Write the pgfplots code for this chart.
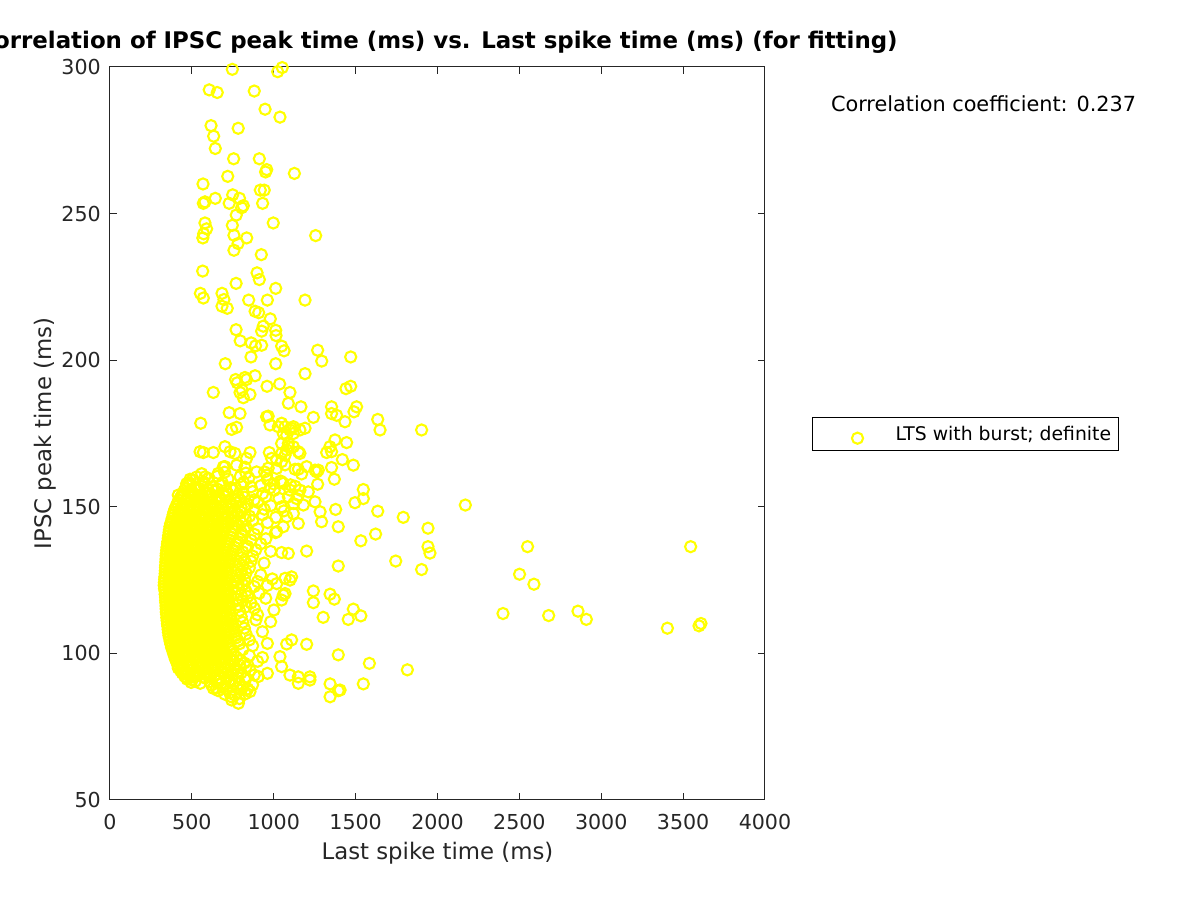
\documentclass[border=0pt]{standalone}
\usepackage{pgfplots}
\pgfplotsset{compat=1.18}
\usepackage{fontspec}
\setmainfont{DejaVu Sans}
\definecolor{myyellow}{rgb}{1,1,0}
\definecolor{axgray}{rgb}{0.15,0.15,0.15}
\begin{document}
\begin{tikzpicture}
\useasboundingbox (0,0) rectangle (600pt,450pt);
\begin{axis}[
  at={(55pt,50pt)}, anchor=south west,
  width=327.5pt, height=366.5pt, scale only axis,
  xmin=0, xmax=4000, ymin=50, ymax=300,
  xtick={0,500,...,4000}, ytick={50,100,...,300},
  scaled x ticks=false,
  /pgf/number format/1000 sep={},
  /pgf/number format/assume math mode=true,
  tick align=inside, major tick length=3.6pt,
  axis line style={axgray, line width=0.5pt},
  every tick/.style={axgray, line width=0.5pt},
  tick label style={font=\fontsize{10.3}{12}\selectfont, text=axgray},
  xticklabel style={anchor=base, yshift=-14.6pt},
  yticklabel style={anchor=east, xshift=-1.1pt},
  xlabel={Last spike time (ms)},
  ylabel={IPSC peak time (ms)},
  xlabel style={at={(axis description cs:0.5,-0.0808)}, anchor=base, font=\fontsize{11.4}{13}\selectfont, text=axgray},
  ylabel style={at={(axis description cs:-0.09,0.5)}, anchor=base, rotate=0, font=\fontsize{11.4}{13}\selectfont, text=axgray},
  title={Correlation of IPSC peak time (ms) vs. Last spike time (ms) (for fitting)},
  title style={at={(axis description cs:0.5,1)}, anchor=base, yshift=3pt, font=\bfseries\fontsize{11.45}{13}\selectfont},
  clip=false,
  legend style={at={(axis description cs:1.0718,0.5225)}, anchor=north west, draw=black, line width=0.5pt,
    inner xsep=0pt, inner ysep=0pt, column sep=0pt,
    font=\fontsize{9.4}{11}\selectfont,
    nodes={inner sep=0pt, text height=11.65pt, text depth=5pt, anchor=base west}},
  legend image code/.code={
    \path[draw=none, fill=none] (0pt,0pt) -- (41.5pt,0pt);
    \draw[#1] plot coordinates {(22.5pt,1.3pt)};
  },
]
\addplot[only marks, mark=o, mark size=2.8pt, line width=1.05pt, draw=myyellow, mark options={draw=myyellow, line width=1.05pt}] coordinates {
(747,299.2)(1024,298.4)(1052,299.8)(606,292.2)(655,291.3)(881,291.8)(947,285.6)(1038,282.9)(617,280)(783,279.1)
(633,276.4)(643,272.2)(755,268.7)(912,268.7)(957,265)(950,264.2)(1126,263.7)(568,260.1)(719,262.7)(918,258)
(942,258)(749,256.4)(791,255.2)(643,255.2)(570,253.5)(580,254)(728,253.5)(814,252.7)(804,252)(932,253.5)
(771,249.5)(580,246.8)(590,244.8)(572,243.1)(567,241.7)(747,246)(997,246.8)(757,242.6)(835,241.7)(1256,242.5)
(782,239.8)(757,237.5)(924,236)(566,230.4)(898,229.8)(912,227.5)(770,226.2)(1012,224.5)(552,222.8)(570,221.2)
(684,222.8)(696,220.7)(684,218.4)(716,217.7)(847,220.5)(961,220.5)(1191,220.5)(886,216.7)(908,216.2)(979,214.1)
(936,211.6)(926,209.9)(770,210.4)(1012,210.2)(1014,208.4)(795,206.6)(862,205.9)(889,204.9)(926,205.1)(1048,204.8)
(1063,203.2)(1268,203.4)(1470,201.1)(1293,199.7)(861,201.1)(704,198.8)(1012,198.8)(1191,195.4)(886,194.7)(767,193.4)
(824,194.1)(959,191.1)(1036,191.9)(1441,190.3)(1470,191.1)(631,189)(794,189)(855,188.3)(807,189.8)(1099,189)
(1903,176.2)(1791,146.4)(2170,150.6)(1942,142.7)(1942,136.4)(1954,134.2)(1745,131.5)(1903,128.6)(2550,136.4)(2501,127)
(2589,123.6)(2400,113.6)(2679,112.9)(2858,114.4)(2909,111.6)(3546,136.4)(3404,108.6)(3597,109.4)(3609,110.2)(1816,94.4)
(1089,185.3)(1166,184.1)(1242,180.5)(1353,184.1)(1353,181.8)(1384,181.2)(1506,184.1)(1490,182.4)(1435,179)(1635,179.8)
(1649,176.2)(1099,176.2)(1160,176.2)(1191,176.8)(1120,177.3)(1058,175)(1374,172.8)(1445,171.9)(1323,168.5)(1353,168.8)
(1343,170.5)(1419,166.1)(1486,164.2)(1353,163.4)(1150,162.8)(1252,162.5)(1262,161.9)(1370,159.4)(1268,157.7)(1547,155.9)
(1547,152.8)(1496,151.4)(1378,149.1)(1635,148.5)(1394,143.2)(1283,148.3)(1292,144.9)(1211,155.1)(1160,155.7)(1130,157)
(1150,153.9)(1532,138.4)(1622,140.7)(1201,134.9)(1089,134.1)(1048,134.4)(1394,129.8)(1099,125)(1242,121.3)(1242,117.3)
(1344,120.2)(1370,118.5)(1486,115.1)(1532,112.8)(1455,111.6)(1302,112.3)(1058,119.9)(1048,118.2)(1069,120.4)(1109,104.6)
(1079,103.2)(1201,103.1)(1394,99.5)(1584,96.6)(1099,92.6)(1150,92)(1221,92)(1221,90.9)(1150,89.8)(1344,89.6)
(1405,87.5)(1344,85.2)(1394,87.3)(1547,89.6)(1038,98.9)(1048,95.5)
(728,182.1)(794,181.8)(554,178.5)(743,176.4)(773,177.1)(814,187.2)(777,192.3)(834,193.4)(956,180.7)(977,177.9)
(1028,177.3)(570,168.5)(631,168.5)(702,170.5)(733,168.8)(763,168.2)(855,168.5)(973,168.5)(1018,166)(1079,169.4)
(1069,164.3)(702,163.7)(824,163.5)(661,161.4)(489,159.4)(580,160.2)(448,154.3)(1018,141.5)(1069,125.6)(1109,126.1)
(1018,123.8)(784,83)(743,84.1)(631,88.1)(499,91)(417,95)(855,87)
(1089,171.6)(1150,168.8)(1048,168.2)(1048,165.4)(1130,162.8)(1170,161.2)(1048,158.5)(1099,155.7)(1252,151.7)(1181,150.6)
(1120,147.7)(1079,146.6)(1048,150)(1150,144.3)(1058,143.2)(1089,153.4)(1140,152.8)(1048,178.5)(1109,176.8)(1079,174.4)
(1089,170.5)(1160,168.2)(1069,167.6)(966,180.9)(1069,177.3)(1120,175)(550,168.8)(1048,171.6)(1120,170.5)(468,157.9)
(417,154)(692,163.6)(773,164.2)(834,166.5)(895,161.9)(956,160.8)(1018,163.1)(1058,158)(1201,163.7)(1272,162.5)
(966,163.2)(987,166.5)
(560,161.3)(700,161.8)(830,161.5)(944,161.9)
(503,159.2)(601,159.7)(721,159.5)(848,159.8)(962,159.3)(1041,158.8)
(472,157.3)(522,156.6)(571,157.8)(626,156.9)(681,157.4)(736,156.5)(801,157.6)(861,156.8)(921,157.2)(977,156.4)(1102,157.5)
(452,155.4)(498,154.7)(541,155.8)(592,154.9)(641,155.3)(691,154.6)(752,155.7)(812,154.8)(871,155.2)(932,154.5)(1003,155.6)
(431,153.2)(469,152.6)(511,153.7)(556,152.8)(601,153.4)(651,152.5)(702,153.6)(761,152.7)(822,153.3)(881,152.4)(951,153.5)(1032,152.9)
(412,151.3)(451,150.6)(489,151.7)(531,150.8)(574,151.2)(621,150.5)(664,151.6)(711,150.7)(772,151.4)(841,150.9)(902,151.5)(982,150.4)(1122,151.1)
(396,149.2)(431,148.5)(469,149.6)(506,148.8)(546,149.3)(586,148.6)(626,149.7)(671,148.7)(716,149.4)(761,148.5)(822,149.6)(881,148.8)(942,149.2)(1062,148.6)
(386,147.3)(416,146.6)(451,147.7)(484,146.8)(521,147.2)(561,146.5)(601,147.6)(641,146.7)(681,147.4)(722,146.5)(781,147.5)(852,146.8)(931,147.3)(1012,146.4)
(376,145.1)(406,144.5)(441,145.6)(471,144.7)(506,145.3)(541,144.6)(576,145.5)(611,144.8)(651,145.2)(691,144.5)(741,145.6)(802,144.7)(871,145.3)(962,144.6)
(366,143.2)(396,142.6)(426,143.7)(456,142.8)(491,143.3)(521,142.5)(556,143.6)(591,142.7)(626,143.4)(661,142.6)(702,143.5)(762,142.8)(831,143.3)(902,142.5)
(361,141.3)(391,140.6)(421,141.6)(451,140.7)(481,141.2)(511,140.5)(546,141.5)(581,140.8)(616,141.4)(651,140.6)(692,141.5)(741,140.7)(802,141.3)(882,140.6)(1011,141.2)
(356,139.2)(386,138.5)(416,139.6)(446,138.7)(476,139.3)(506,138.6)(541,139.5)(576,138.8)(611,139.2)(646,138.5)(681,139.6)(731,138.7)(791,139.3)(862,138.6)(952,139.1)
(351,137.3)(379,136.6)(409,137.5)(439,136.8)(469,137.2)(499,136.5)(531,137.6)(566,136.7)(601,137.4)(636,136.6)(671,137.5)(711,136.8)(771,137.2)(841,136.5)(921,137.4)
(346,135.2)(374,134.5)(403,135.6)(433,134.7)(463,135.3)(493,134.6)(526,135.5)(559,134.8)(593,135.2)(626,134.5)(661,135.6)(701,134.7)(751,135.3)(811,134.6)(891,135.4)(981,134.8)
(343,133.3)(371,132.6)(399,133.5)(429,132.7)(459,133.2)(489,132.5)(521,133.6)(553,132.8)(586,133.4)(619,132.6)(653,133.5)(691,132.7)(741,133.3)(801,132.6)(871,133.2)
(341,131.2)(369,130.5)(397,131.6)(426,130.7)(456,131.3)(486,130.6)(516,131.5)(549,130.8)(581,131.2)(613,130.5)(647,131.6)(686,130.7)(731,131.3)(791,130.6)(861,131.4)(941,130.8)
(339,129.3)(366,128.6)(394,129.5)(423,128.7)(453,129.2)(483,128.5)(513,129.6)(546,128.8)(578,129.4)(611,128.6)(645,129.5)(681,128.7)(721,129.3)(781,128.6)(851,129.2)
(337,127.2)(363,126.5)(391,127.6)(421,126.7)(451,127.3)(481,126.6)(511,127.5)(543,126.8)(576,127.2)(609,126.5)(641,127.6)(677,126.7)(716,127.3)(771,126.6)(831,127.4)(921,126.8)
(334,125.3)(361,124.6)(389,125.5)(419,124.7)(449,125.2)(479,124.5)(509,125.6)(541,124.8)(573,125.4)(606,124.6)(639,125.5)(673,124.7)(711,125.3)(761,124.6)(821,125.2)(901,124.5)(991,125.4)
(331,123.2)(359,122.5)(387,123.6)(417,122.7)(447,123.3)(477,122.6)(507,123.5)(539,122.8)(571,123.2)(603,122.5)(636,123.6)(669,122.7)(706,123.3)(751,122.6)(811,123.4)(881,122.8)(961,123.2)
(336,121.3)(363,120.6)(391,121.5)(421,120.7)(451,121.2)(481,120.5)(511,121.6)(543,120.8)(576,121.4)(609,120.6)(641,121.5)(676,120.7)(713,121.3)(761,120.6)(831,121.2)(911,120.5)
(339,119.2)(366,118.5)(394,119.6)(423,118.7)(453,119.3)(483,118.6)(513,119.5)(546,118.8)(579,119.2)(611,118.5)(646,119.6)(681,118.7)(721,119.3)(771,118.6)(841,119.4)(951,118.8)
(341,117.3)(369,116.6)(397,117.5)(426,116.7)(456,117.2)(486,116.5)(516,117.6)(549,116.8)(581,117.4)(613,116.6)(649,117.5)(686,116.7)(726,117.3)(781,116.6)(861,117.2)
(343,115.2)(371,114.5)(399,115.6)(429,114.7)(459,115.3)(489,114.6)(519,115.5)(551,114.8)(583,115.2)(616,114.5)(651,115.6)(689,114.7)(731,115.3)(791,114.6)(881,115.4)(1001,114.8)
(346,113.3)(373,112.6)(401,113.5)(431,112.7)(461,113.2)(491,112.5)(521,113.6)(553,112.8)(586,113.4)(619,112.6)(653,113.5)(691,112.7)(736,113.3)(801,112.6)(901,113.2)
(349,111.2)(376,110.5)(405,111.6)(435,110.7)(465,111.3)(495,110.6)(526,111.5)(557,110.8)(589,111.2)(621,110.5)(656,111.6)(696,110.7)(741,111.3)(811,110.6)(891,111.4)(981,110.8)
(353,109.3)(381,108.6)(409,109.5)(439,108.7)(469,109.2)(499,108.5)(529,109.6)(561,108.8)(593,109.4)(626,108.6)(661,109.5)(701,108.7)(751,109.3)(821,108.6)
(357,107.2)(385,106.5)(413,107.6)(443,106.7)(473,107.3)(503,106.6)(533,107.5)(566,106.8)(598,107.2)(631,106.5)(666,107.6)(706,106.7)(761,107.3)(831,106.6)(931,107.4)
(363,105.3)(391,104.6)(419,105.5)(449,104.7)(479,105.2)(509,104.5)(539,105.6)(571,104.8)(603,105.4)(636,104.6)(671,105.5)(713,104.7)(771,105.3)(851,104.6)
(371,103.2)(399,102.5)(427,103.6)(456,102.7)(486,103.3)(516,102.6)(546,103.5)(578,102.8)(611,103.2)(646,102.5)(681,103.6)(726,102.7)(791,103.3)(871,102.6)(961,103.4)
(381,101.3)(409,100.6)(437,101.5)(466,100.7)(496,101.2)(526,100.5)(557,101.6)(589,100.8)(621,101.4)(656,100.6)(693,101.5)(741,100.7)(811,101.3)
(393,99.2)(421,98.5)(449,99.6)(479,98.7)(509,99.3)(539,98.6)(571,99.5)(603,98.8)(637,99.2)(673,98.5)(716,99.6)(771,98.7)(851,99.3)(931,98.6)
(406,97.3)(436,96.6)(466,97.5)(496,96.7)(526,97.2)(557,96.5)(591,97.6)(626,96.8)(661,97.4)(701,96.6)(751,97.5)(821,96.7)(901,97.3)
(421,95.2)(451,94.5)(481,95.6)(513,94.7)(546,95.3)(581,94.6)(616,95.5)(656,94.8)(701,95.2)(761,94.5)(831,95.4)
(441,93.3)(476,92.6)(511,93.5)(549,92.7)(591,93.2)(641,92.5)(691,93.6)(746,92.8)(801,93.4)(881,92.6)(961,93.2)
(471,91.2)(521,90.5)(581,91.6)(651,90.7)(711,91.3)(761,90.6)(831,91.5)
(621,89.2)(691,88.5)(751,89.6)(811,88.7)(871,89.3)
(661,87.3)(731,86.6)(801,87.5)
(741,85.2)(791,84.6)
(530,160.2)(655,160.4)(795,160.3)
(485,158.1)(575,158.3)(686,158.2)(816,158.3)(1000,157.8)
(460,156.2)(497,155.8)(546,156.3)(598,155.9)(653,156.1)(708,155.7)(768,156.3)
(440,154.1)(476,153.8)(519,154.3)(566,153.9)(616,154.2)(666,153.7)(721,154.3)(781,153.8)
(421,152.2)(456,151.8)(496,152.3)(536,151.9)(578,152.1)(626,151.7)(676,152.3)(731,151.8)(796,152.2)
(403,150.1)(436,149.8)(471,150.3)(509,149.9)(551,150.2)(596,149.7)(643,150.3)(691,149.8)(741,150.2)(801,149.9)
(390,148.2)(421,147.8)(456,148.3)(491,147.9)(528,148.1)(566,147.7)(606,148.3)(646,147.8)(696,148.2)(741,147.9)(801,148.1)
(380,146.1)(411,145.8)(443,146.3)(476,145.9)(511,146.2)(546,145.7)(583,146.3)(623,145.8)(661,146.1)(706,145.9)(761,146.2)(826,145.8)
(370,144.2)(401,143.8)(431,144.3)(463,143.9)(496,144.1)(531,143.7)(566,144.3)(601,143.8)(638,144.2)(676,143.9)(721,144.1)(781,143.8)
(363,142.1)(393,141.8)(423,142.3)(453,141.9)(486,142.2)(516,141.7)(551,142.3)(586,141.8)(621,142.1)(656,141.9)(696,142.2)(751,141.8)(821,142.1)
(358,140.2)(388,139.8)(418,140.3)(448,139.9)(478,140.1)(508,139.7)(543,140.3)(578,139.8)(613,140.2)(648,139.9)(686,140.1)(736,139.8)(811,140.2)
(353,138.1)(381,137.8)(411,138.3)(441,137.9)(471,138.2)(503,137.7)(536,138.3)(571,137.8)(606,138.1)(641,137.9)(676,138.2)(721,137.8)(781,138.1)
(348,136.2)(376,135.8)(406,136.3)(436,135.9)(466,136.1)(496,135.7)(528,136.3)(563,135.8)(596,136.2)(631,135.9)(666,136.1)(706,135.8)(761,136.2)(831,135.9)
(344,134.1)(372,133.8)(401,134.3)(431,133.9)(461,134.2)(491,133.7)(523,134.3)(556,133.8)(589,134.1)(623,133.9)(657,134.2)(696,133.8)(746,134.1)
(342,132.2)(370,131.8)(398,132.3)(428,131.9)(458,132.1)(488,131.7)(518,132.3)(551,131.8)(583,132.2)(616,131.9)(649,132.1)(688,131.8)(736,132.2)(821,131.9)
(340,130.1)(367,129.8)(395,130.3)(424,129.9)(454,130.2)(484,129.7)(514,130.3)(547,129.8)(579,130.1)(612,129.9)(646,130.2)(683,129.8)(726,130.1)(811,129.9)
(338,128.2)(364,127.8)(392,128.3)(422,127.9)(452,128.1)(482,127.7)(512,128.3)(544,127.8)(577,128.2)(610,127.9)(643,128.1)(679,127.8)(719,128.2)(801,127.9)
(335,126.1)(362,125.8)(390,126.3)(420,125.9)(450,126.2)(480,125.7)(510,126.3)(542,125.8)(574,126.1)(607,125.9)(640,126.2)(675,125.8)(713,126.1)(791,125.9)
(332,124.2)(360,123.8)(388,124.3)(418,123.9)(448,124.1)(478,123.7)(508,124.3)(540,123.8)(572,124.2)(604,123.9)(637,124.1)(671,123.8)(708,124.2)(781,123.9)
(333,122.1)(361,121.8)(389,122.3)(419,121.9)(449,122.2)(479,121.7)(509,122.3)(541,121.8)(573,122.1)(606,121.9)(638,122.2)(672,121.8)(709,122.1)(786,121.9)
(337,120.2)(364,119.8)(392,120.3)(422,119.9)(452,120.1)(482,119.7)(512,120.3)(544,119.8)(577,120.2)(610,119.9)(643,120.1)(678,119.8)(716,120.2)(801,119.9)
(340,118.1)(367,117.8)(395,118.3)(424,117.9)(454,118.2)(484,117.7)(514,118.3)(547,117.8)(580,118.1)(612,117.9)(647,118.2)(683,117.8)(723,118.1)(811,117.9)
(342,116.2)(370,115.8)(398,116.3)(427,115.9)(457,116.1)(487,115.7)(517,116.3)(550,115.8)(582,116.2)(614,115.9)(650,116.1)(687,115.8)(728,116.2)(831,115.9)
(344,114.1)(372,113.8)(400,114.3)(430,113.9)(460,114.2)(490,113.7)(520,114.3)(552,113.8)(584,114.1)(617,113.9)(652,114.2)(690,113.8)(733,114.1)
(347,112.2)(374,111.8)(403,112.3)(433,111.9)(463,112.1)(493,111.7)(523,112.3)(555,111.8)(587,112.2)(620,111.9)(654,112.1)(693,111.8)(738,112.2)
(351,110.1)(378,109.8)(407,110.3)(437,109.9)(467,110.2)(497,109.7)(527,110.3)(559,109.8)(591,110.1)(623,109.9)(658,110.2)(698,109.8)(746,110.1)
(355,108.2)(383,107.8)(411,108.3)(441,107.9)(471,108.1)(501,107.7)(531,108.3)(563,107.8)(595,108.2)(628,107.9)(663,108.1)(703,107.8)(756,108.2)
(360,106.1)(388,105.8)(416,106.3)(446,105.9)(476,106.2)(506,105.7)(536,106.3)(568,105.8)(600,106.1)(633,105.9)(668,106.2)(709,105.8)(766,106.1)
(367,104.2)(395,103.8)(423,104.3)(452,103.9)(482,104.1)(512,103.7)(542,104.3)(574,103.8)(606,104.2)(641,103.9)(676,104.1)(719,103.8)(781,104.2)
(376,102.1)(404,101.8)(432,102.3)(461,101.9)(491,102.2)(521,101.7)(551,102.3)(583,101.8)(616,102.1)(651,101.9)(686,102.2)(733,101.8)
(387,100.2)(415,99.8)(443,100.3)(472,99.9)(502,100.1)(532,99.7)(564,100.3)(596,99.8)(629,100.2)(664,99.9)(703,100.1)(756,99.8)
(399,98.1)(428,97.8)(457,98.3)(487,97.9)(517,98.2)(548,97.7)(581,98.3)(614,97.8)(649,98.1)(687,97.9)(733,98.2)(796,97.8)
(413,96.2)(443,95.8)(473,96.3)(504,95.9)(536,96.1)(569,95.7)(603,96.3)(641,95.8)(681,96.2)(726,95.9)(791,96.1)
(431,94.1)(463,93.8)(496,94.3)(529,93.9)(563,94.2)(598,93.7)(636,94.3)(676,93.8)(721,94.1)(781,93.9)(856,94.2)
(456,92.2)(493,91.8)(531,92.3)(571,91.9)(616,92.2)(666,91.7)(721,92.3)(781,91.8)(906,92.1)
(496,90.1)(551,89.8)(611,90.3)(681,89.9)(736,90.2)(791,89.8)
(651,88.2)(711,87.8)(776,88.3)(841,87.9)
(701,86.1)(761,85.8)(826,86.2)
};
\addlegendentry{LTS with burst; definite\kern3.5pt}
\end{axis}
\node[anchor=base west, font=\fontsize{10.4}{12}\selectfont, inner sep=0pt] at (415.3pt,394.2pt) {Correlation coefficient: 0.237};
\end{tikzpicture}
\end{document}
